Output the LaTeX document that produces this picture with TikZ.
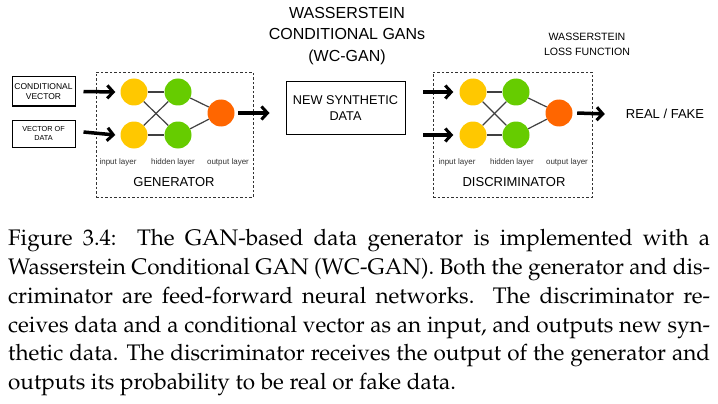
\documentclass[tikz,border=0pt]{standalone}
\usepackage[T1]{fontenc}
\usepackage{fontspec}
\newfontfamily\arial{Liberation Sans}
\usetikzlibrary{arrows.meta}
\definecolor{gyel}{RGB}{255,200,0}
\definecolor{ggreen}{RGB}{102,204,0}
\definecolor{gorange}{RGB}{255,102,0}
\tikzset{
  neuron/.style={circle, minimum size=27pt, inner sep=0pt},
  ynode/.style={neuron, fill=gyel},
  gnode/.style={neuron, fill=ggreen},
  onode/.style={neuron, fill=gorange},
  wire/.style={draw=black!75, line width=1.2pt},
  bigarrow/.style={line width=3.5pt, -{Straight Barb[length=6pt,width=13pt,line width=3pt]}},
  dashbox/.style={draw=black!80, dashed, dash pattern=on 2.5pt off 2pt, line width=0.8pt, inner sep=0pt},
  solidbox/.style={draw=black, line width=1pt, inner sep=0pt, align=center},
  lbl/.style={font=\arial\fontsize{8}{9}\selectfont, text=black!80, inner sep=0pt},
  bigtxt/.style={font=\arial\fontsize{13}{15.5}\selectfont, inner sep=0pt, align=center},
}
\begin{document}
\begin{tikzpicture}[x=1pt,y=-1pt]
\useasboundingbox (0,0) rectangle (718,404);
% boxes
\node[dashbox, minimum width=157pt, minimum height=125pt] (genbox) at (174.5,134.5) {};
\node[dashbox, minimum width=159pt, minimum height=125pt] (disbox) at (512.5,134.5) {};
\node[solidbox, minimum width=63pt, minimum height=29pt, font=\arial\fontsize{8.5}{10}\selectfont] (cv) at (43.5,91.5) {CONDITIONAL\\VECTOR};
\node[solidbox, minimum width=63pt, minimum height=27pt, font=\arial\fontsize{7.3}{9}\selectfont] (vd) at (43.5,133.5) {VECTOR OF\\DATA};
\node[solidbox, minimum width=119pt, minimum height=52pt, font=\arial\fontsize{12.7}{16}\selectfont] (nsd) at (345.5,108) {NEW SYNTHETIC\\DATA};
% generator network
\node[ynode] (g1) at (134,92) {};
\node[ynode] (g2) at (134,135) {};
\node[gnode] (g3) at (178,92) {};
\node[gnode] (g4) at (178,135) {};
\node[onode] (g5) at (221,113) {};
\draw[wire] (g1) -- (g3); \draw[wire] (g1) -- (g4);
\draw[wire] (g2) -- (g3); \draw[wire] (g2) -- (g4);
\draw[wire] (g3) -- (g5); \draw[wire] (g4) -- (g5);
% discriminator network
\node[ynode] (d1) at (473,92) {};
\node[ynode] (d2) at (473,135) {};
\node[gnode] (d3) at (516,92) {};
\node[gnode] (d4) at (516,135) {};
\node[onode] (d5) at (559,113) {};
\draw[wire] (d1) -- (d3); \draw[wire] (d1) -- (d4);
\draw[wire] (d2) -- (d3); \draw[wire] (d2) -- (d4);
\draw[wire] (d3) -- (d5); \draw[wire] (d4) -- (d5);
% arrows
\draw[bigarrow] ([xshift=8pt]cv.east) -- ([xshift=-5pt]g1.west);
\draw[bigarrow] ([xshift=8pt,yshift=1.5pt]vd.east) -- ([xshift=-5pt]g2.west);
\draw[bigarrow] ([xshift=3.5pt]g5.east) -- ([xshift=-16pt]nsd.west |- g5);
\coordinate (din1) at ([xshift=-36pt]d1.west);
\coordinate (din2) at ([xshift=-36pt]d2.west);
\draw[bigarrow] (din1) -- ([xshift=-6pt]d1.west);
\draw[bigarrow] (din2) -- ([xshift=-6pt]d2.west);
\node[bigtxt, font=\arial\fontsize{13}{15.5}\selectfont] (rf) at (665,114) {REAL / FAKE};
\draw[bigarrow] ([xshift=4.5pt]d5.east) -- ([xshift=-21pt]rf.west);
% labels
\node[lbl] (gl1) at (118,162) {input layer};
\node[lbl] (gl2) at (173,162) {hidden layer};
\node[lbl] (gl3) at (228,162) {output layer};
\node[lbl] (dl1) at (457,162) {input layer};
\node[lbl] (dl2) at (512,162) {hidden layer};
\node[lbl] (dl3) at (567,162) {output layer};
\node[bigtxt] (gen) at (174,182) {GENERATOR};
\node[bigtxt] (dis) at (514,182) {DISCRIMINATOR};
\node[bigtxt, font=\arial\fontsize{16}{21.5}\selectfont] (title) at (347,36) {WASSERSTEIN\\CONDITIONAL GANs\\(WC-GAN)};
\node[bigtxt, font=\arial\fontsize{10.6}{15}\selectfont] (loss) at (587,44.5) {WASSERSTEIN\\LOSS FUNCTION};
% caption
\node[anchor=north west, inner sep=0pt, text width=702pt, align=justify,
      font=\fontsize{22.5}{28.7}\usefont{T1}{ppl}{m}{n}] (cap) at (8,229.5)
{Figure 3.4:\ \ The GAN-based data generator is implemented with a\linebreak
Wasserstein Conditional GAN (WC-GAN). Both the generator and dis-\linebreak
criminator are feed-forward neural networks.\ \ The discriminator re-\linebreak
ceives data and a conditional vector as an input, and outputs new syn-\linebreak
thetic data. The discriminator receives the output of the generator and\linebreak
outputs its probability to be real or fake data.};
\end{tikzpicture}
\end{document}
